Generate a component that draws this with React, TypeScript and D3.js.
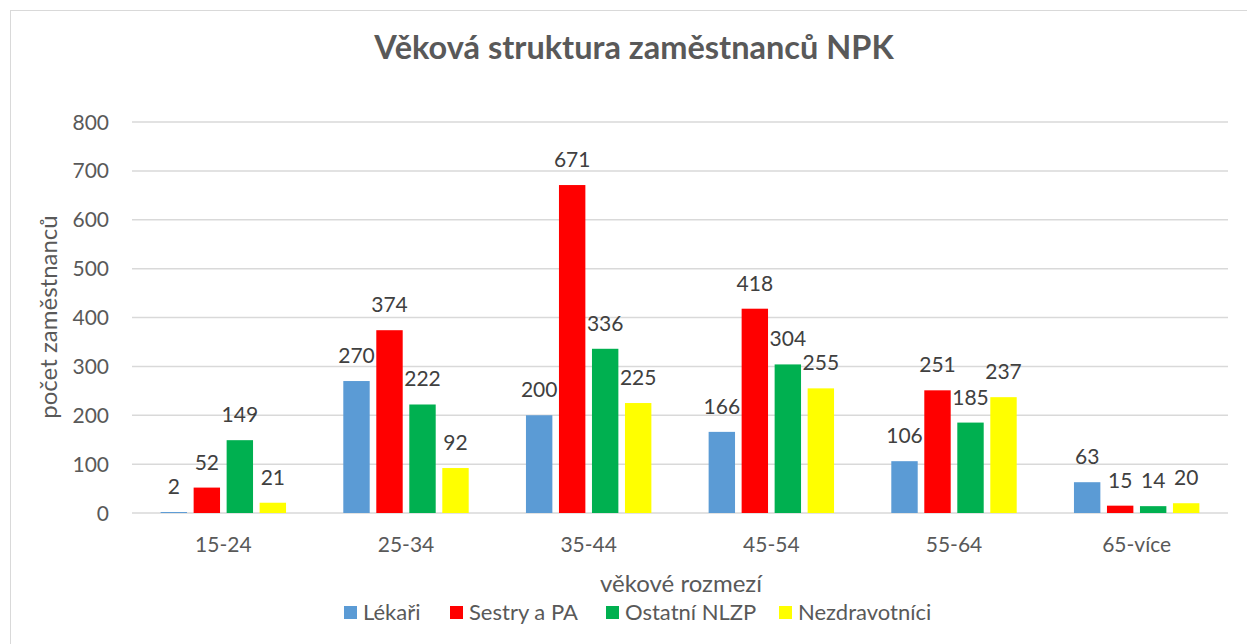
import React from "react";
import * as d3 from "d3";

const categories = ["15-24", "25-34", "35-44", "45-54", "55-64", "65-více"];
const seriesNames = ["Lékaři", "Sestry a PA", "Ostatní NLZP", "Nezdravotníci"];
const lekari = [2, 270, 200, 166, 106, 63];
const sestry = [52, 374, 671, 418, 251, 15];
const ostatni = [149, 222, 336, 304, 185, 14];
const nezdrav = [21, 92, 225, 255, 237, 20];
const yTicks = [0, 100, 200, 300, 400, 500, 600, 700, 800];
const colors = ["#5b9bd5", "#ff0000", "#00b050", "#ffff00"];

const W = 1247;
const H = 644;
const FONT = "Lato, 'Open Sans', sans-serif";

export default function App() {
  const series = [lekari, sestry, ostatni, nezdrav];
  const x0 = d3.scaleBand<string>().domain(categories).range([132, 1228]).padding(0);
  const x1 = d3
    .scaleBand<string>()
    .domain(seriesNames)
    .range([0, x0.bandwidth()])
    .paddingInner(0.2)
    .paddingOuter(0.8675);
  const y = d3.scaleLinear().domain([0, 800]).range([513, 122]);

  const legendX = [344, 450, 606, 779];

  return (
    <svg
      width={W}
      height={H}
      style={{ position: "absolute", left: 0, top: 0, background: "#fff" }}
      fontFamily={FONT}
    >
      <rect x={10.5} y={10.5} width={1260} height={660} fill="#fff" stroke="#d9d9d9" strokeWidth={1} />
      <text x={634} y={59} textAnchor="middle" fontSize={32.5} fontWeight="bold" fill="#595959">
        Věková struktura zaměstnanců NPK
      </text>
      {yTicks.map((t) => (
        <g key={t}>
          <line x1={132} x2={1228} y1={y(t)} y2={y(t)} stroke="#d9d9d9" strokeWidth={1.5} />
          <text x={109} y={y(t)} dy="0.36em" textAnchor="end" fontSize={21} fill="#595959">
            {t}
          </text>
        </g>
      ))}
      {categories.map((c, i) => (
        <g key={c} transform={`translate(${x0(c)},0)`}>
          {series.map((s, j) => {
            const bx = x1(seriesNames[j])!;
            const bw = x1.bandwidth();
            return (
              <g key={j}>
                <rect x={bx} y={y(s[i])} width={bw} height={y(0) - y(s[i])} fill={colors[j]} />
                <text
                  x={bx + bw / 2}
                  y={y(s[i]) - 18}
                  textAnchor="middle"
                  fontSize={21}
                  fill="#404040"
                >
                  {s[i]}
                </text>
              </g>
            );
          })}
          <text x={x0.bandwidth() / 2} y={552} textAnchor="middle" fontSize={21} fill="#595959">
            {c}
          </text>
        </g>
      ))}
      <text
        transform={`translate(57,317) rotate(-90)`}
        textAnchor="middle"
        fontSize={24}
        fill="#595959"
      >
        počet zaměstnanců
      </text>
      <text x={681} y={592} textAnchor="middle" fontSize={24} fill="#595959">
        věkové rozmezí
      </text>
      {seriesNames.map((n, j) => (
        <g key={n}>
          <rect x={legendX[j]} y={606} width={13} height={13} fill={colors[j]} />
          <text x={legendX[j] + 19} y={619.5} fontSize={22} fill="#595959">
            {n}
          </text>
        </g>
      ))}
    </svg>
  );
}
